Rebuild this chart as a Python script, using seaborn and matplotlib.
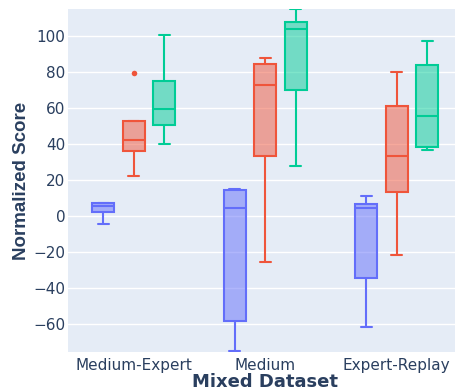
import numpy as np
import pandas as pd
import matplotlib
matplotlib.use('Agg')
import matplotlib.pyplot as plt
import seaborn as sns
from matplotlib.colors import to_rgba

# five scores per box (min, q1, median, q3, max)
datasets = ['Medium-Expert', 'Medium', 'Expert-Replay']
methods = ['A', 'B', 'C']
scores_a = [[-4.4, 2.5, 5.7, 7.2, 7.4],
            [-75.2, -58.1, 4.8, 14.8, 15.2],
            [-61.7, -34.3, 4.4, 6.9, 11.3]]
scores_b = [[22.2, 36.3, 42.2, 53.0, 79.4],
            [-25.7, 33.3, 73.0, 84.8, 88.0],
            [-21.3, 13.3, 33.3, 61.3, 80.0]]
scores_c = [[40.0, 50.7, 59.8, 75.2, 100.7],
            [28.0, 70.0, 103.9, 107.8, 115.0],
            [36.7, 38.7, 55.6, 84.1, 97.6]]
colors = ['#636EFA', '#EF553B', '#00CC96']

rows = []
for method, scores in zip(methods, [scores_a, scores_b, scores_c]):
    for ds, vals in zip(datasets, scores):
        for v in vals:
            rows.append({'dataset': ds, 'method': method, 'score': v})
df = pd.DataFrame(rows)

sns.set_theme(style='darkgrid', rc={'axes.facecolor': '#E5ECF6',
                                    'grid.color': 'white', 'grid.linewidth': 1.0})
plt.rcParams['font.family'] = ['DejaVu Sans']
text_color = '#2a3f5f'

fig = plt.figure(figsize=(4.56, 3.92), dpi=100)
ax = fig.add_axes([68 / 456, 40 / 392, 394.5 / 456, 343 / 392])

sns.boxplot(data=df, x='dataset', y='score', hue='method', order=datasets,
            hue_order=methods, palette=colors, saturation=1, width=0.70, gap=0.28,
            linewidth=1.5, whis=1.5, legend=False, ax=ax,
            flierprops=dict(marker='o', markersize=4, markeredgewidth=0))

box_w = 0.70 / 3 * (1 - 0.28)
for cont, col in zip(ax.containers, colors):
    for b in cont.boxes:
        b.set_facecolor(to_rgba(col, 0.5))
        b.set_edgecolor(col)
    for ln in list(cont.whiskers) + list(cont.medians):
        ln.set_color(col)
    for ln in cont.caps:
        ln.set_color(col)
        xc = np.mean(ln.get_xdata())
        ln.set_xdata([xc - box_w / 4, xc + box_w / 4])
    for ln in cont.fliers:
        ln.set_markerfacecolor(col)
        ln.set_markeredgecolor(col)

ax.set_xlim(-0.5, 2.5)
ax.set_ylim(-75.5, 115.2)
ax.set_yticks(range(-60, 101, 20))
ax.grid(axis='x', visible=False)
ax.tick_params(axis='both', length=0, labelsize=11, labelcolor=text_color)
ax.tick_params(axis='y', pad=2)
ax.tick_params(axis='x', pad=4)
ax.set_xlabel('Mixed Dataset', fontsize=13, fontweight='bold', color=text_color, labelpad=0)
ax.set_ylabel('Normalized Score', fontsize=13.5, fontweight='bold', color=text_color,
              labelpad=2, family='Liberation Sans')
for s in ax.spines.values():
    s.set_visible(False)

fig.savefig('out.png', dpi=100)
